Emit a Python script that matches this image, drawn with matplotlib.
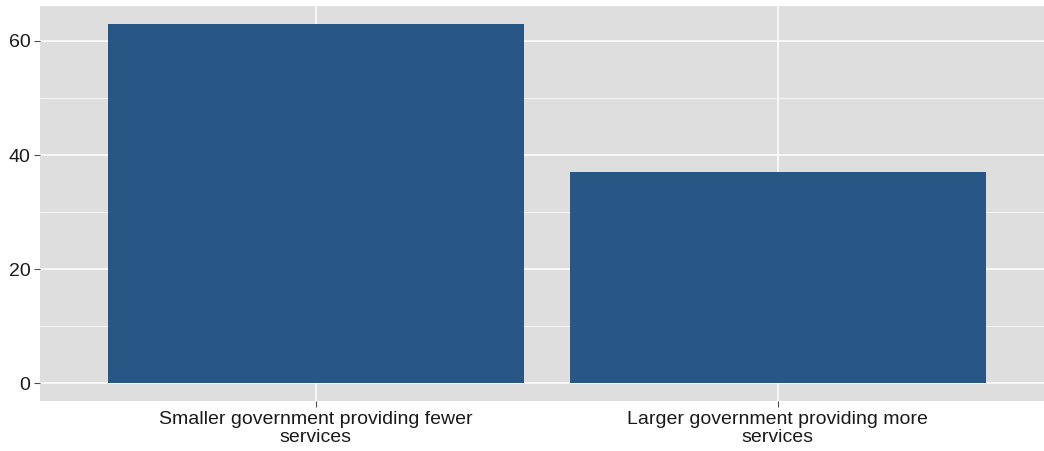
import numpy as np
import matplotlib.pyplot as plt

categories = ['Smaller government providing fewer\nservices',
              'Larger government providing more\nservices']
values = [63, 37]
y_ticks = [0, 20, 40, 60]
y_minor = [10, 30, 50]

plt.rcParams['font.family'] = ['Liberation Sans', 'DejaVu Sans']

fig = plt.figure(figsize=(10.44, 4.51), dpi=100)
ax = fig.add_axes([40 / 1044, 50 / 451, 1004 / 1044, 395 / 451])
ax.set_facecolor('#DEDEDE')

x = np.arange(1, len(categories) + 1)
ax.bar(x, values, width=0.9, color='#285786', zorder=3)

ax.set_xlim(0.403, 2.576)
ax.set_ylim(-3.1, 66.13)
ax.set_xticks(x)
ax.set_xticklabels(categories, fontsize=14, color='#1a1a1a', linespacing=1.12)
ax.set_yticks(y_ticks)
ax.set_yticklabels([str(v) for v in y_ticks], fontsize=14, color='#1a1a1a')
ax.set_yticks(y_minor, minor=True)

ax.grid(True, which='major', color='white', linewidth=1.1, zorder=0)
ax.grid(True, which='minor', axis='y', color='white', linewidth=0.5, zorder=0)
ax.tick_params(which='major', length=4, color='#4d4d4d', width=0.8, pad=3)
ax.tick_params(which='minor', length=0)
for s in ax.spines.values():
    s.set_visible(False)

fig.savefig('out.png', dpi=100)
